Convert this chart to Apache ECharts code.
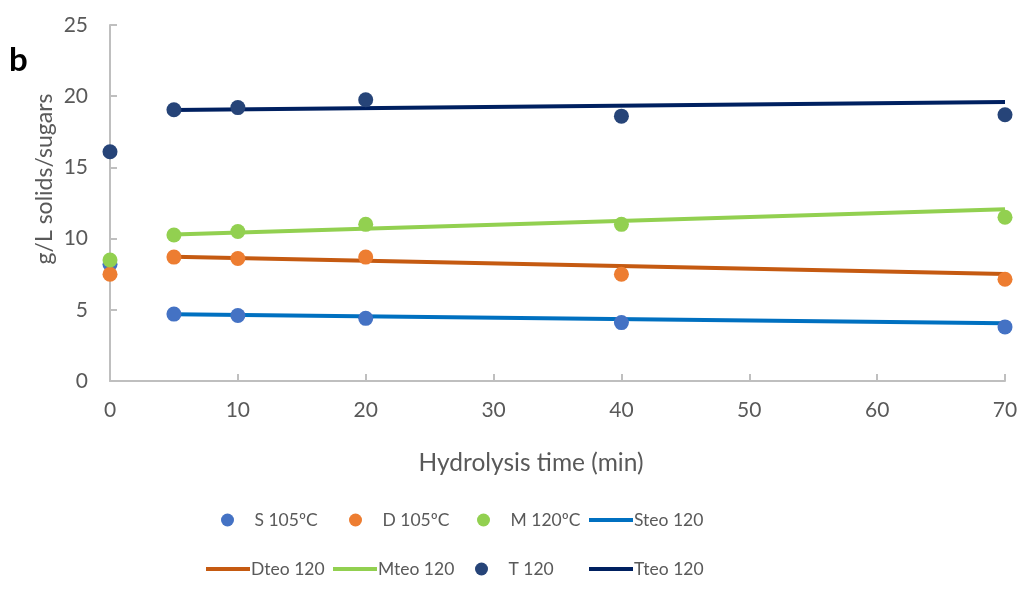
<!DOCTYPE html>
<html>
<head>
<meta charset="utf-8">
<script src="https://cdn.jsdelivr.net/npm/echarts@6/dist/echarts.min.js"></script>
<style>
	html, body { margin: 0; padding: 0; background: #fff; }
	#chart { width: 1025px; height: 596px; }
</style>
</head>
<body>
<div id="chart"></div>
<script>
// measured points (min, g/L)
var times = [0, 5, 10, 20, 40, 70];
var sVals = [8.2, 4.7, 4.6, 4.4, 4.1, 3.8];
var dVals = [7.5, 8.7, 8.6, 8.7, 7.5, 7.15];
var mVals = [8.5, 10.25, 10.5, 11.0, 11.0, 11.5];
var tVals = [16.1, 19.05, 19.2, 19.75, 18.6, 18.7];

// theoretical lines
var teoTimes = [5, 70];
var sTeo = [4.68, 4.05];
var dTeo = [8.72, 7.52];
var mTeo = [10.28, 12.06];
var tTeo = [19.03, 19.6];

var xTicks = [0, 10, 20, 30, 40, 50, 60, 70];
var yTicks = [0, 5, 10, 15, 20, 25];

var textColor = '#595959';
var font = 'Lato';
var lineIcon = 'path://M0,0 L44,0 L44,4 L0,4 Z';

function pairs(xs, ys) {
	return xs.map(function (x, i) { return [x, ys[i]]; });
}

function scatter(name, vals, color) {
	return {
		name: name,
		type: 'scatter',
		data: pairs(times, vals),
		symbol: 'circle',
		symbolSize: 15,
		itemStyle: { color: color, opacity: 1 },
		z: 3
	};
}

function teoLine(name, vals, color) {
	return {
		name: name,
		type: 'line',
		data: pairs(teoTimes, vals),
		symbol: 'none',
		lineStyle: { color: color, width: 4 },
		itemStyle: { color: color },
		z: 2
	};
}

// one legend per entry so the columns line up like the original
function legendItem(name, left, top, isLine) {
	return {
		left: isLine ? left : left + 16,
		top: top,
		itemWidth: 44,
		itemHeight: isLine ? 4 : 13,
		padding: 0,
		data: [{ name: name, icon: isLine ? lineIcon : 'circle' }],
		textStyle: { color: textColor, fontSize: 17.5, fontFamily: font, padding: [0, 0, 0, isLine ? -4 : 0] }
	};
}

var chart = echarts.init(document.getElementById('chart'));
var option = {
	animation: false,
	textStyle: { fontFamily: font },
	grid: { left: 110, right: 20, top: 25, bottom: 215 },
	xAxis: {
		type: 'value',
		min: xTicks[0],
		max: xTicks[xTicks.length - 1],
		interval: 10,
		splitLine: { show: false },
		axisLine: { lineStyle: { color: '#BFBFBF', width: 2 } },
		axisTick: { inside: true, length: 7, lineStyle: { color: '#BFBFBF', width: 2 } },
		axisLabel: { color: textColor, fontSize: 21, margin: 19 }
	},
	yAxis: {
		type: 'value',
		min: yTicks[0],
		max: yTicks[yTicks.length - 1],
		interval: 5,
		splitLine: { show: false },
		axisLine: { show: true, lineStyle: { color: '#BFBFBF', width: 2 } },
		axisTick: { show: true, inside: true, length: 7, lineStyle: { color: '#BFBFBF', width: 2 } },
		axisLabel: { color: textColor, fontSize: 21, margin: 22 }
	},
	legend: [
		legendItem('S 105ºC', 205, 511, false),
		legendItem('D 105ºC', 333, 511, false),
		legendItem('M 120ºC', 461, 511, false),
		legendItem('Steo 120', 589, 511, true),
		legendItem('Dteo 120', 206, 560, true),
		legendItem('Mteo 120', 333, 560, true),
		legendItem('T 120', 459, 560, false),
		legendItem('Tteo 120', 589, 560, true)
	],
	graphic: [
		{
			type: 'text', left: 9, top: 44,
			style: { text: 'b', fontSize: 33, fontWeight: 'bold', fontFamily: font, fill: '#000' }
		},
		{
			type: 'text', x: 45, y: 179, rotation: Math.PI / 2,
			style: { text: 'g/L solids/sugars', fontSize: 23, fontFamily: font, fill: textColor, align: 'center', verticalAlign: 'middle' }
		},
		{
			type: 'text', x: 531, y: 463,
			style: { text: 'Hydrolysis time (min)', fontSize: 24.5, fontFamily: font, fill: textColor, align: 'center', verticalAlign: 'middle' }
		}
	],
	series: [
		scatter('S 105ºC', sVals, '#4472C4'),
		scatter('D 105ºC', dVals, '#ED7D31'),
		scatter('M 120ºC', mVals, '#92D050'),
		teoLine('Steo 120', sTeo, '#0070C0'),
		teoLine('Dteo 120', dTeo, '#C55A11'),
		teoLine('Mteo 120', mTeo, '#92D050'),
		scatter('T 120', tVals, '#264478'),
		teoLine('Tteo 120', tTeo, '#002060')
	]
};
chart.setOption(option);
</script>
</body>
</html>
